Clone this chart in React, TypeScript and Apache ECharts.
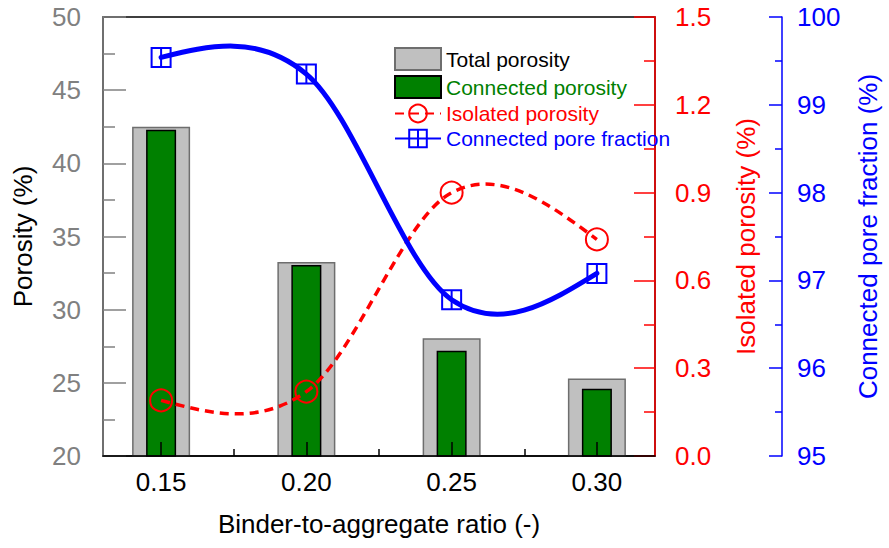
import React, { useEffect, useRef } from 'react';
import * as echarts from 'echarts';

const ratios = [0.15, 0.2, 0.25, 0.3];
const minorRatios = [0.175, 0.225, 0.275];
const totalPorosity = [42.5, 33.25, 28.05, 25.3];
const connectedPorosity = [42.3, 33.05, 27.2, 24.6];
const isolatedPorosity = [0.19, 0.22, 0.9, 0.74];
const connectedFraction = [99.54, 99.35, 96.78, 97.08];

const FONT = '"Liberation Sans", Arial, Helvetica, sans-serif';
const RED = '#ff0000';
const BLUE = '#0000ff';
const GREEN = '#008000';
const GRAY = '#808080';

// Hermite (Catmull-Rom interior, natural ends) -> cubic Bezier segments in data space
function bezierSegments(xs: number[], ys: number[]) {
  const n = xs.length;
  const d: number[] = new Array(n).fill(0);
  for (let i = 1; i < n - 1; i++) d[i] = (ys[i + 1] - ys[i - 1]) / 2;
  d[0] = (3 * (ys[1] - ys[0]) - d[1]) / 2;
  d[n - 1] = (3 * (ys[n - 1] - ys[n - 2]) - d[n - 2]) / 2;
  const segs: number[][][] = [];
  for (let i = 0; i < n - 1; i++) {
    const dx = xs[i + 1] - xs[i];
    segs.push([
      [xs[i] + dx / 3, ys[i] + d[i] / 3],
      [xs[i + 1] - dx / 3, ys[i + 1] - d[i + 1] / 3],
      [xs[i + 1], ys[i + 1]],
    ]);
  }
  return segs;
}

function curveSeries(ys: number[], yAxisIndex: number, style: any) {
  return {
    type: 'custom',
    xAxisIndex: 0,
    yAxisIndex,
    silent: true,
    z: 3,
    data: ratios.map((x, i) => [x, ys[i]]),
    renderItem: (params: any, api: any) => {
      if (params.dataIndex !== 0) return { type: 'group', children: [] };
      const segs = bezierSegments(ratios, ys);
      const p0 = api.coord([ratios[0], ys[0]]);
      let d = `M${p0[0]},${p0[1]}`;
      segs.forEach((s) => {
        const a = api.coord(s[0]);
        const b = api.coord(s[1]);
        const c = api.coord(s[2]);
        d += ` C${a[0]},${a[1]} ${b[0]},${b[1]} ${c[0]},${c[1]}`;
      });
      return { type: 'path', shape: { pathData: d }, style: { fill: 'none', ...style } };
    },
  };
}

export default function App() {
  const ref = useRef<HTMLDivElement>(null);
  useEffect(() => {
    if (!ref.current) return;
    const chart = echarts.init(ref.current, null, { renderer: 'svg' });
    const tickLabel = { fontSize: 26, fontFamily: FONT };
    const option: any = {
      animation: false,
      backgroundColor: '#fff',
      grid: {
        left: 103,
        top: 17,
        right: 228,
        bottom: 92,
        show: true,
        borderColor: '#000',
        borderWidth: 1.5,
        backgroundColor: 'transparent',
      },
      legend: {
        orient: 'vertical',
        left: 394,
        top: 47,
        padding: 0,
        itemWidth: 46,
        itemHeight: 22,
        itemGap: 4,
        selectedMode: false,
        textStyle: { fontSize: 21, fontFamily: FONT },
        data: [
          { name: 'Total porosity', icon: 'rect', textStyle: { color: '#000' } },
          { name: 'Connected porosity', icon: 'rect', textStyle: { color: GREEN } },
          { name: 'Isolated porosity', textStyle: { color: RED }, lineStyle: { opacity: 1 } },
          { name: 'Connected pore fraction', textStyle: { color: BLUE }, lineStyle: { opacity: 1 } },
        ],
      },
      xAxis: [
        {
          type: 'value',
          min: 0.13,
          max: 0.32,
          position: 'bottom',
          z: 5,
          name: 'Binder-to-aggregate ratio (-)',
          nameLocation: 'middle',
          nameGap: 55,
          nameTextStyle: { fontSize: 26, fontFamily: FONT, color: '#000' },
          axisLine: { show: true, lineStyle: { color: '#000', width: 1.5 } },
          axisTick: {
            show: true,
            inside: true,
            length: 14,
            customValues: ratios,
            lineStyle: { color: '#000', width: 1.5 },
          },
          axisLabel: {
            ...tickLabel,
            color: '#000',
            margin: 13,
            customValues: ratios,
            formatter: (v: number) => v.toFixed(2),
          },
          splitLine: { show: false },
        },
        {
          type: 'value',
          min: 0.13,
          max: 0.32,
          position: 'bottom',
          z: 5,
          axisLine: { show: false },
          axisTick: {
            show: true,
            inside: true,
            length: 7,
            customValues: minorRatios,
            lineStyle: { color: '#000', width: 1.5 },
          },
          axisLabel: { show: false },
          splitLine: { show: false },
        },
      ],
      yAxis: [
        {
          type: 'value',
          position: 'left',
          min: 20,
          max: 50,
          interval: 5,
          name: 'Porosity (%)',
          nameLocation: 'middle',
          nameGap: 67,
          nameTextStyle: { fontSize: 26, fontFamily: FONT, color: '#000' },
          axisLine: { show: true, lineStyle: { color: GRAY, width: 1.5 } },
          axisTick: { show: true, inside: true, length: 23, lineStyle: { color: GRAY, width: 1.5 } },
          minorTick: { show: true, splitNumber: 2, length: 12, lineStyle: { color: GRAY, width: 1.5 } },
          axisLabel: { ...tickLabel, color: GRAY, margin: 22 },
          splitLine: { show: false },
        },
        {
          type: 'value',
          position: 'right',
          min: 0,
          max: 1.5,
          interval: 0.3,
          name: 'Isolated porosity (%)',
          nameLocation: 'middle',
          nameGap: 78,
          nameTextStyle: { fontSize: 26, fontFamily: FONT, color: RED },
          axisLine: { show: true, lineStyle: { color: RED, width: 1.5 } },
          axisTick: { show: true, inside: true, length: 21, lineStyle: { color: RED, width: 1.5 } },
          minorTick: { show: true, splitNumber: 2, length: 11, lineStyle: { color: RED, width: 1.5 } },
          axisLabel: { ...tickLabel, color: RED, margin: 20, formatter: (v: number) => v.toFixed(1) },
          splitLine: { show: false },
        },
        {
          type: 'value',
          position: 'right',
          offset: 127,
          min: 95,
          max: 100,
          interval: 1,
          name: 'Connected pore fraction (%)',
          nameLocation: 'middle',
          nameGap: 73,
          nameTextStyle: { fontSize: 26, fontFamily: FONT, color: BLUE },
          axisLine: { show: true, lineStyle: { color: BLUE, width: 1.5 } },
          axisTick: { show: true, inside: true, length: 13, lineStyle: { color: BLUE, width: 1.5 } },
          minorTick: { show: true, splitNumber: 2, length: 7, lineStyle: { color: BLUE, width: 1.5 } },
          axisLabel: { ...tickLabel, color: BLUE, margin: 15 },
          splitLine: { show: false },
        },
      ],
      series: [
        {
          name: 'Total porosity',
          type: 'bar',
          xAxisIndex: 0,
          yAxisIndex: 0,
          barWidth: 58,
          data: ratios.map((x, i) => [x, totalPorosity[i]]),
          itemStyle: { color: '#c0c0c0', borderColor: '#6e6e6e', borderWidth: 1.5 },
          z: 1,
        },
        {
          name: 'Connected porosity',
          type: 'bar',
          xAxisIndex: 1,
          yAxisIndex: 0,
          barWidth: 30,
          data: ratios.map((x, i) => [x, connectedPorosity[i]]),
          itemStyle: { color: GREEN, borderColor: '#000', borderWidth: 1.5 },
          z: 2,
        },
        curveSeries(isolatedPorosity, 1, { stroke: RED, lineWidth: 3.5, lineDash: [9, 6] }),
        curveSeries(connectedFraction, 2, { stroke: BLUE, lineWidth: 5, lineCap: 'round' }),
        {
          name: 'Isolated porosity',
          type: 'line',
          xAxisIndex: 0,
          yAxisIndex: 1,
          z: 4,
          data: ratios.map((x, i) => [x, isolatedPorosity[i]]),
          symbol: 'circle',
          symbolSize: 22,
          itemStyle: { color: 'transparent', borderColor: RED, borderWidth: 2 },
          lineStyle: { color: RED, width: 3.5, type: [9, 6], opacity: 0 },
          emphasis: { disabled: true },
        },
        {
          name: 'Connected pore fraction',
          type: 'line',
          xAxisIndex: 0,
          yAxisIndex: 2,
          z: 4,
          data: ratios.map((x, i) => [x, connectedFraction[i]]),
          symbol: 'path://M0,0H20V20H0Z M10,0V20',
          symbolSize: 19,
          itemStyle: { color: 'transparent', borderColor: BLUE, borderWidth: 2 },
          lineStyle: { color: BLUE, width: 5, opacity: 0 },
          emphasis: { disabled: true },
        },
      ],
    };
    chart.setOption(option);
    return () => chart.dispose();
  }, []);
  return (
    <div
      ref={ref}
      style={{ position: 'absolute', left: 0, top: 0, width: 889, height: 548 }}
    />
  );
}
